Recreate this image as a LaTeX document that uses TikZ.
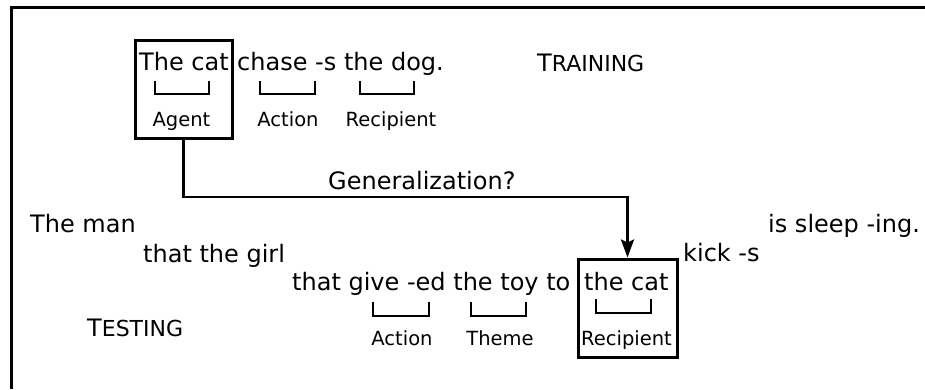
\documentclass[tikz,border=0pt]{standalone}
\usepackage{fontspec}
\setmainfont{DejaVu Sans}
\usetikzlibrary{arrows.meta}

\newcommand{\bigtxt}{\fontsize{24}{28}\selectfont}
\newcommand{\smalltxt}{\fontsize{19.5}{23}\selectfont}
\newcommand{\scword}[2]{{\fontsize{24}{28}\selectfont #1}{\fontsize{22}{26}\selectfont #2}}

\begin{document}
\begin{tikzpicture}[x=1pt,y=-1pt,
  word/.style={anchor=base west,inner sep=0pt,font=\bigtxt},
  role/.style={anchor=base,inner sep=0pt,font=\smalltxt},
  rolebox/.style={draw,line width=3pt,inner sep=0pt},
  brace/.style={draw,line width=2.8pt,line cap=rect},
  frameline/.style={draw,line width=3pt},
  genarrow/.style={draw,line width=2.6pt,-{Stealth[length=18pt,width=13pt,inset=3pt]}}]
\useasboundingbox (0,0) rectangle (925,389);

% outer frame (open to the right and bottom)
\draw[frameline] (925,7) -- (11,7) -- (11,389);

% ---- training sentence ----
\node[rolebox,minimum width=97pt,minimum height=98pt] (agentbox) at (183.5,89) {};
\node[word] (tcat) at (139,70) {The cat};
\node[word] (chase) at (237,70) {chase -s the dog.};
\node[word] (training) at (537,71) {\scword{T}{RAINING}};

\draw[brace] (155,82) -- (155,94) -- (209,94) -- (209,82);
\draw[brace] (260,82) -- (260,94) -- (315,94) -- (315,82);
\draw[brace] (360,82) -- (360,94) -- (414,94) -- (414,82);

\node[role] (agent) at (181.5,126) {Agent};
\node[role] (action1) at (288,126) {Action};
\node[role] (recip1) at (391,126) {Recipient};

% ---- testing sentence ----
\node[word] (man) at (30,232) {The man};
\node[word] (girl) at (143,262) {that the girl};
\node[word] (give) at (292,290) {that give -ed the toy to};
\node[rolebox,minimum width=99pt,minimum height=98pt] (recbox) at (627.5,308) {};
\node[word] (ccat) at (584,290) {the cat};
\node[word] (kick) at (683,261) {kick -s};
\node[word] (sleep) at (768,232) {is sleep -ing.};
\node[word] (testing) at (87,336) {\scword{T}{ESTING}};

\draw[brace] (373,303) -- (373,316) -- (429,316) -- (429,303);
\draw[brace] (471,303) -- (471,316) -- (526,316) -- (526,303);
\draw[brace] (596,300) -- (596,313) -- (651,313) -- (651,300);

\node[role] (action2) at (402,345) {Action};
\node[role] (theme) at (500,345) {Theme};
\node[role] (recip2) at (626.5,345) {Recipient};

% ---- generalization arrow ----
\coordinate (bend) at (183.5,197);
\draw[genarrow] (agentbox.south) -- (bend) -| (recbox.north);
\node[word] (gen) at (328,189) {Generalization?};
\end{tikzpicture}
\end{document}
